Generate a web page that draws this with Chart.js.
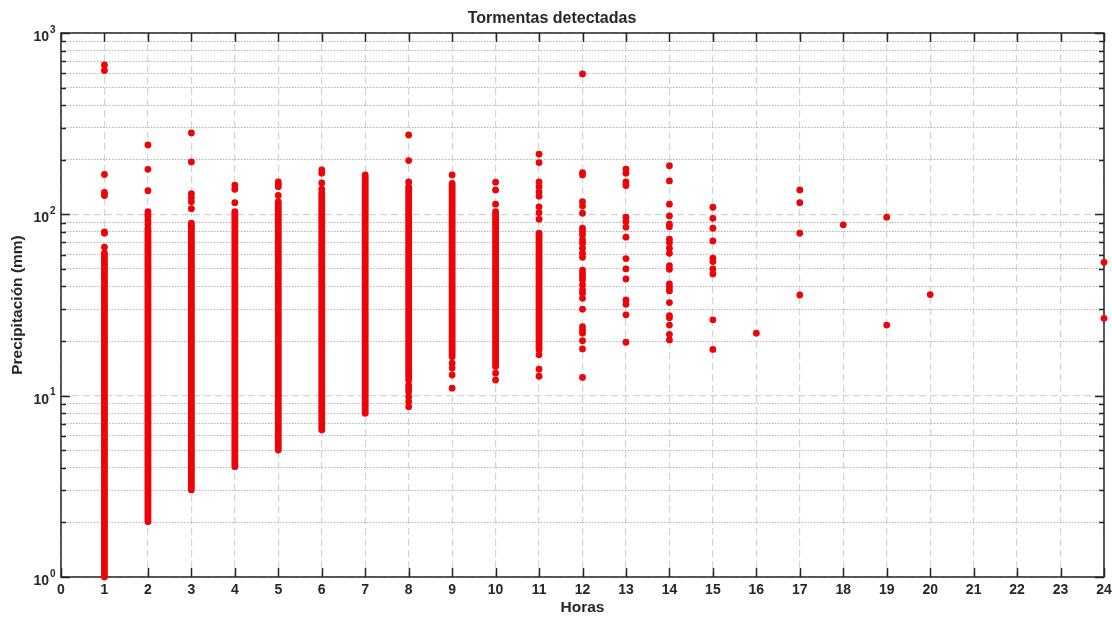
<!DOCTYPE html>
<html>
<head>
<meta charset="utf-8">
<script src="https://cdn.jsdelivr.net/npm/chart.js@4/dist/chart.umd.min.js"></script>
<style>
  html, body { margin: 0; padding: 0; background: #fff; }
  #grafico { display: block; }
</style>
</head>
<body>
<canvas id="grafico" width="1112" height="619"></canvas>
<script>
// columnas casi continuas: de la tormenta menor a la mayor de la banda
const horasBanda = [1, 2, 3, 4, 5, 6, 7, 8, 9, 10, 11]
const bandaMin = [1.0, 2.02, 3.02, 4.06, 5.01, 6.47, 8.0, 12.2, 16.4, 14.5, 17.9]
const bandaMax = [61, 84, 89.3, 103.5, 117.5, 131, 155, 142, 148, 103.5, 78.7]

// tormentas sueltas (hora, precipitacion en mm)
const horasPuntos = [
  1, 1, 1, 1, 1, 1, 1, 1,
  2, 2, 2, 2, 2, 2, 2, 2,
  3, 3, 3, 3, 3, 3,
  4, 4, 4,
  5, 5, 5, 5,
  6, 6, 6, 6,
  7, 7,
  8, 8, 8, 8, 8, 8, 8, 8, 8,
  9, 9, 9, 9, 9,
  10, 10, 10, 10, 10,
  11, 11, 11, 11, 11, 11, 11, 11, 11, 11, 11, 11,
  12, 12, 12, 12, 12, 12, 12, 12, 12, 12, 12, 12, 12, 12, 12, 12, 12, 12, 12, 12, 12, 12, 12, 12, 12, 12, 12, 12, 12,
  13, 13, 13, 13, 13, 13, 13, 13, 13, 13, 13, 13, 13, 13, 13,
  14, 14, 14, 14, 14, 14, 14, 14, 14, 14, 14, 14, 14, 14, 14, 14, 14, 14, 14, 14, 14,
  15, 15, 15, 15, 15, 15, 15, 15, 15, 15,
  16,
  17, 17, 17, 17,
  18,
  19, 19,
  20,
  24, 24
]
const precipPuntos = [
  667, 621, 166, 132, 127, 80, 78.7, 65.9,
  241.5, 177, 135, 103.5, 100, 97, 92.7, 88.5,
  281, 194.5, 130, 124, 117.5, 107.5,
  145, 137.5, 116,
  151, 146, 142, 127,
  176, 168.6, 149, 137.5,
  165, 160,
  274, 198, 151, 11.45, 10.98, 10.5, 9.87, 9.26, 8.7,
  165, 15.1, 14.2, 13.0, 11.0,
  150.5, 136.4, 113.7, 13.3, 12.2,
  215, 193, 151, 142, 133, 126, 110, 102, 94, 16.8, 14.0, 12.8,
  595, 170, 165, 117.5, 111, 101.4, 83.8, 80.3, 76.9, 72.3, 69.3, 65.0, 61.0, 58.0, 49.3, 47.3, 45.3, 43.5, 40.8, 38.3, 36.7, 34.4, 30.0, 24.0, 23.0, 22.1, 20.1, 18.1, 12.6,
  177.4, 168.6, 151, 144, 96.4, 91.2, 84.9, 74.8, 57, 50, 44, 33.7, 31.9, 27.9, 19.7,
  185.6, 152.8, 113.7, 98, 88.2, 85.5, 72.9, 69.8, 65, 61, 52.1, 49.8, 41.3, 39.5, 37.8, 32.6, 27.6, 26.9, 24.5, 21.8, 20.3,
  109.4, 95, 83.8, 71.3, 57.3, 54.9, 50, 46.9, 26.2, 18.0,
  22.1,
  136.4, 116, 78.7, 35.9,
  87.5,
  96.4, 24.5,
  36.1,
  54.4, 26.7
]

// etiquetas de los ejes
const decadasY = [1, 10, 100, 1000]
const exponentesY = ['0', '1', '2', '3']
const horaMin = 0
const horaMax = 24

const rojo = 'rgb(236, 4, 8)'
const tinta = '#262626'
const fuente = "'Liberation Sans', Arial, Helvetica, sans-serif"

// ticks de la escala log: 1..9 por decada
const ticksY = []
decadasY.forEach((d, i) => {
  if (i === decadasY.length - 1) { ticksY.push(d); return }
  for (let m = 1; m < 10; m++) ticksY.push(m * d)
})
const esDecada = v => decadasY.some(d => Math.abs(v - d) < 1e-9 * d)

const datasets = horasBanda.map((h, i) => ({
  data: [{ x: h, y: bandaMin[i] }, { x: h, y: bandaMax[i] }],
  showLine: true,
  borderColor: rojo,
  borderWidth: 6.8,
  borderCapStyle: 'round',
  pointRadius: 0,
  clip: false
}))
datasets.push({
  data: horasPuntos.map((h, i) => ({ x: h, y: precipPuntos[i] })),
  backgroundColor: rojo,
  borderWidth: 0,
  pointRadius: 3.4,
  clip: false
})

const marcoMatlab = {
  id: 'marcoMatlab',
  beforeDraw(chart) {
    const { ctx } = chart
    ctx.save()
    ctx.fillStyle = '#fff'
    ctx.fillRect(0, 0, chart.width, chart.height)
    ctx.restore()
  },
  beforeDatasetsDraw(chart) {
    const { ctx, chartArea: a, scales: { x, y } } = chart
    ctx.save()
    ctx.strokeStyle = tinta
    ctx.lineWidth = 1.5
    ctx.beginPath()
    x.ticks.forEach(t => {
      const px = Math.round(x.getPixelForValue(t.value)) + 0.5
      ctx.moveTo(px, a.bottom); ctx.lineTo(px, a.bottom - 9)
      ctx.moveTo(px, a.top); ctx.lineTo(px, a.top + 9)
    })
    y.ticks.forEach(t => {
      const py = Math.round(y.getPixelForValue(t.value)) + 0.5
      const largo = esDecada(t.value) ? 9 : 5
      ctx.moveTo(a.left, py); ctx.lineTo(a.left + largo, py)
      ctx.moveTo(a.right, py); ctx.lineTo(a.right - largo, py)
    })
    ctx.stroke()
    ctx.strokeRect(a.left, a.top, a.right - a.left, a.bottom - a.top)

    // etiquetas 10^n
    ctx.fillStyle = tinta
    ctx.textBaseline = 'middle'
    decadasY.forEach((d, i) => {
      const py = y.getPixelForValue(d)
      ctx.font = 'bold 14px ' + fuente
      ctx.textAlign = 'right'
      ctx.fillText('10', a.left - 12, py + 4)
      ctx.font = 'bold 10px ' + fuente
      ctx.textAlign = 'left'
      ctx.fillText(exponentesY[i], a.left - 11, py - 3)
    })
    ctx.restore()
  }
}

new Chart(document.getElementById('grafico'), {
  type: 'scatter',
  data: { datasets },
  plugins: [marcoMatlab],
  options: {
    responsive: false,
    animation: false,
    layout: { padding: { left: 0, right: 8, top: 0, bottom: 0 } },
    plugins: {
      legend: { display: false },
      tooltip: { enabled: false },
      title: {
        display: true,
        text: 'Tormentas detectadas',
        color: tinta,
        font: { family: fuente, size: 16, weight: 'bold' },
        padding: { top: 9, bottom: 4.8 }
      }
    },
    scales: {
      x: {
        type: 'linear',
        min: horaMin,
        max: horaMax,
        afterFit: s => { s.height = 42; s.paddingLeft = 0; s.paddingRight = 0 },
        ticks: {
          stepSize: 1,
          autoSkip: false,
          maxRotation: 0,
          padding: 5,
          color: tinta,
          font: { family: fuente, size: 14, weight: 'bold' }
        },
        grid: { color: '#d4d4d4', lineWidth: 1.2, drawTicks: false },
        border: { display: false, dash: [7, 4] },
        title: {
          display: true,
          text: 'Horas',
          color: tinta,
          font: { family: fuente, size: 15.5, weight: 'bold' },
          padding: { top: 0, bottom: 1.7 }
        }
      },
      y: {
        type: 'logarithmic',
        min: 1,
        max: 1000,
        afterFit: s => { s.width = 61 },
        afterBuildTicks: s => { s.ticks = ticksY.map(v => ({ value: v })) },
        ticks: { display: false },
        grid: {
          drawTicks: false,
          color: c => esDecada(c.tick.value) ? '#d4d4d4' : '#b4b4b4',
          lineWidth: c => esDecada(c.tick.value) ? 1.2 : 1
        },
        border: {
          display: false,
          dash: c => (c.type === 'tick' && c.tick && !esDecada(c.tick.value)) ? [1.5, 1.5] : [7, 4]
        },
        title: {
          display: true,
          text: 'Precipitación (mm)',
          color: tinta,
          font: { family: fuente, size: 15.5, weight: 'bold' },
          padding: { top: 8.7, bottom: 0 }
        }
      }
    }
  }
})
</script>
</body>
</html>
